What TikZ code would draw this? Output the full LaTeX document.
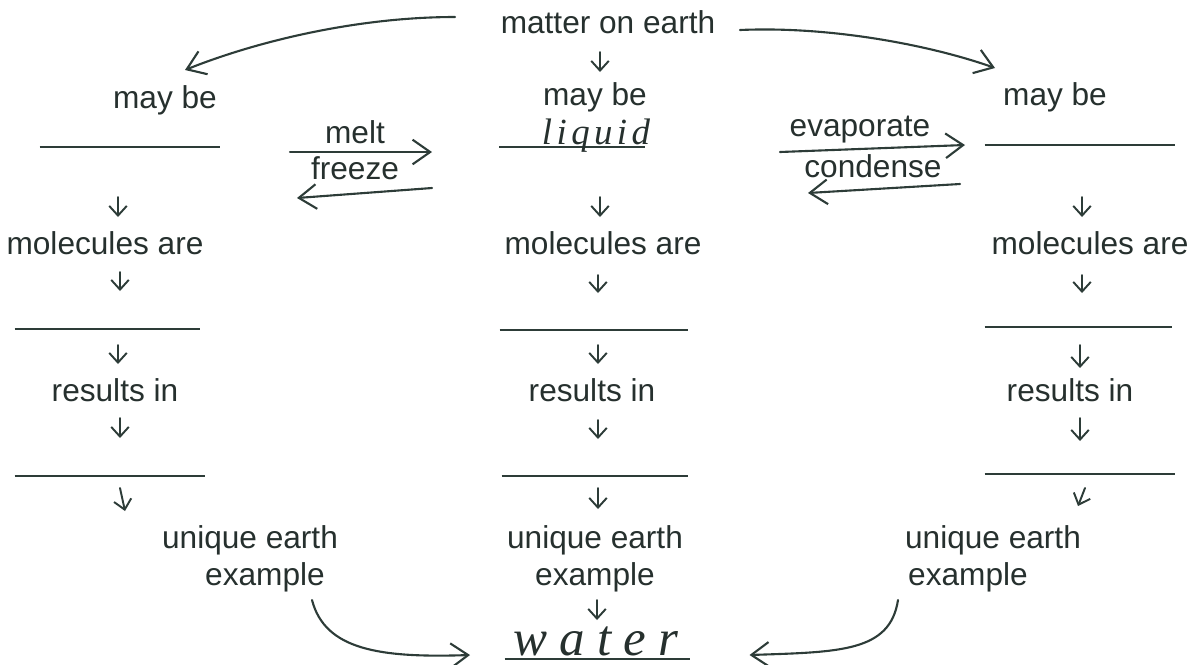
\documentclass[tikz,border=0pt]{standalone}
\usepackage{fontspec}
\setmainfont{Liberation Sans}
\newfontfamily\handfont{Liberation Serif}
\usetikzlibrary{arrows.meta,calc}
\definecolor{ink}{RGB}{38,48,46}
\definecolor{pen}{RGB}{45,60,56}
\begin{document}
\begin{tikzpicture}[x=0.02cm,y=-0.02cm,
  every node/.style={inner sep=0pt, text=ink, font=\fontsize{18}{21}\selectfont},
  rule/.style={draw=pen, line width=0.8pt},
  blank/.style={minimum height=0pt, minimum width=#1},
  sarrow/.style={draw=pen, line width=1.1pt, line cap=round, -{Straight Barb[length=5.5pt,width=10pt]}},
  bigarrow/.style={draw=pen, line width=1.2pt, line cap=round, -{Straight Barb[length=10pt,width=14pt]}},
  hand/.style={font=\handfont\itshape\fontsize{#1}{#1}\selectfont, text depth=0pt},
]
\useasboundingbox (0,0) rectangle (1196,664);

% top
\node (top) at (608,22) {matter on earth};
\node (mL) at (165,100) {may be};
\node (mM) at (595,97) {may be};
\node (mR) at (1055,97) {may be};

% blank lines
\node[blank=3.6cm]  (bL1) at (130,147) {};
\node[blank=2.9cm]  (bM1) at (572,147) {};
\node[blank=3.8cm]  (bR1) at (1080,145) {};
\node[blank=3.7cm]  (bL2) at (107.5,329) {};
\node[blank=3.76cm] (bM2) at (594,330) {};
\node[blank=3.74cm] (bR2) at (1078.5,327) {};
\node[blank=3.8cm]  (bL3) at (110,476) {};
\node[blank=3.72cm] (bM3) at (595,476) {};
\node[blank=3.8cm]  (bR3) at (1080,474) {};
\node[blank=3.7cm]  (bW)  at (597.5,659) {};
\foreach \n in {bL1,bM1,bR1,bL2,bM2,bR2,bL3,bM3,bR3,bW}
  \draw[rule] (\n.west) -- (\n.east);

% handwriting
\node[hand=21, anchor=base] (liq) at (596,144) {l\kern2.5pt i\kern2.5pt q\kern2.5pt u\kern2.5pt i\kern2.5pt d};
\node[hand=29, anchor=base] (water) at (596,655) {w\kern7pt a\kern7pt t\kern7pt e\kern7pt r};

% columns text
\node (molL) at (105,243) {molecules are};
\node (molM) at (603,243) {molecules are};
\node (molR) at (1090,243) {molecules are};
\node (resL) at (115,390) {results in};
\node (resM) at (592,390) {results in};
\node (resR) at (1070,390) {results in};
\node (uL) at (250,540) {unique earth};
\node (eL) at (265,577) {example};
\node (uM) at (595,540) {unique earth};
\node (eM) at (595,577) {example};
\node (uR) at (993,540) {unique earth};
\node (eR) at (968,577) {example};

% transition labels
\node (melt) at (355,132) {melt};
\node (freeze) at (355,168) {freeze};
\node (evap) at (860,130) {evaporate};
\node (cond) at (873,166) {condense};

% top arrows
\draw[sarrow] ([shift={(-8,30)}]top.center) -- ([shift={(5,-25)}]mM.center);
\draw[bigarrow] ([shift={(-153,-5)}]top.center) .. controls (360,17) and (260,40) .. ([shift={(20,-30)}]mL.center);
\draw[bigarrow] ([shift={(132,8)}]top.center) .. controls (830,26) and (930,45) .. ([shift={(-60,-29)}]mR.center);

% phase change arrows
\draw[bigarrow] ([shift={(160,5)}]bL1.center) -- ([shift={(-140,5)}]bM1.center);
\draw[bigarrow] ([shift={(-140,41)}]bM1.center) -- ([shift={(167,51)}]bL1.center);
\draw[bigarrow] ([shift={(208,5)}]bM1.center) -- ([shift={(-115,0)}]bR1.center);
\draw[bigarrow] ([shift={(-120,39)}]bR1.center) -- ([shift={(236,46)}]bM1.center);

% left column arrows
\draw[sarrow] ([shift={(-12,50)}]bL1.center) -- ([shift={(13,-26)}]molL.center);
\draw[sarrow] ([shift={(15,29)}]molL.center) -- ([shift={(12.5,-38)}]bL2.center);
\draw[sarrow] ([shift={(10.5,16)}]bL2.center) -- ([shift={(3,-26)}]resL.center);
\draw[sarrow] ([shift={(5,28)}]resL.center) -- ([shift={(10,-38)}]bL3.center);
\draw[sarrow] ([shift={(10,12)}]bL3.center) -- ([shift={(-125,-29)}]uL.center);

% middle column arrows
\draw[sarrow] ([shift={(28,50)}]bM1.center) -- ([shift={(-3,-26)}]molM.center);
\draw[sarrow] ([shift={(-5,32)}]molM.center) -- ([shift={(4,-37)}]bM2.center);
\draw[sarrow] ([shift={(4,15)}]bM2.center) -- ([shift={(6,-26)}]resM.center);
\draw[sarrow] ([shift={(6,30)}]resM.center) -- ([shift={(3,-37)}]bM3.center);
\draw[sarrow] ([shift={(3,12)}]bM3.center) -- ([shift={(3,-31)}]uM.center);
\draw[sarrow] ([shift={(2,23)}]eM.center) -- ([shift={(1,-35)}]water.base);

% right column arrows
\draw[sarrow] ([shift={(2,52)}]bR1.center) -- ([shift={(-8,-26)}]molR.center);
\draw[sarrow] ([shift={(-8,32)}]molR.center) -- ([shift={(3.5,-34)}]bR2.center);
\draw[sarrow] ([shift={(1.5,18)}]bR2.center) -- ([shift={(10,-22)}]resR.center);
\draw[sarrow] ([shift={(10,28)}]resR.center) -- ([shift={(0,-33)}]bR3.center);
\draw[sarrow] ([shift={(5,14)}]bR3.center) -- ([shift={(85,-34)}]uR.center);

% bottom curved arrows
\draw[bigarrow] ([shift={(47,23)}]eL.center) .. controls (325,650) and (380,658) .. ([shift={(-127.5,-4)}]bW.center);
\draw[bigarrow] ([shift={(-70,23)}]eR.center) .. controls (890,652) and (840,652) .. ([shift={(152,-4)}]bW.center);
\end{tikzpicture}
\end{document}
